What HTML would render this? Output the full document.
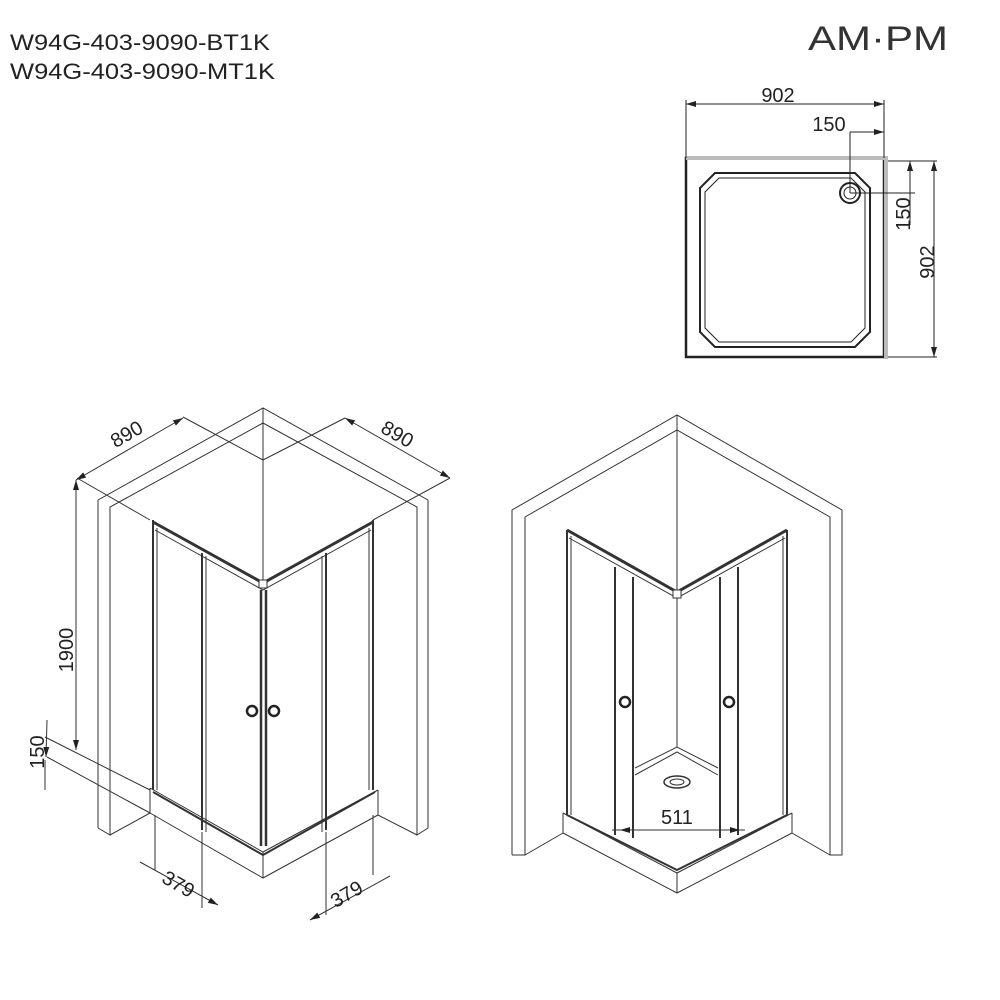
<!DOCTYPE html>
<html><head><meta charset="utf-8"><style>
html,body{margin:0;padding:0;background:#fff}
svg{display:block}
text{font-family:"Liberation Sans",sans-serif;fill:#222}
</style></head><body>
<svg width="1000" height="1000" viewBox="0 0 1000 1000" xmlns="http://www.w3.org/2000/svg">
<defs>
<marker id="a" viewBox="0 0 10 6" refX="10" refY="3" markerWidth="10" markerHeight="6" markerUnits="userSpaceOnUse" orient="auto-start-reverse"><path d="M0 0 L10 3 L0 6 Z" fill="#222"/></marker>
</defs>
<text x="10" y="50" font-size="22" textLength="260" lengthAdjust="spacingAndGlyphs">W94G-403-9090-BT1K</text>
<text x="10" y="79" font-size="22" textLength="265" lengthAdjust="spacingAndGlyphs">W94G-403-9090-MT1K</text>
<text x="808" y="50" font-size="34" font-family="DejaVu Sans" textLength="140" lengthAdjust="spacingAndGlyphs" style="fill:#333">AM·PM</text>

<!-- Top plan -->
<g stroke="#222" fill="none" stroke-width="1">
<rect x="686" y="158" width="198" height="199" stroke-width="2.5"/>
<line x1="686" y1="158" x2="886" y2="158" stroke="#bbb" stroke-width="4"/>
<line x1="886" y1="156" x2="886" y2="359" stroke="#bbb" stroke-width="4"/>
<path d="M715 173 H855 L870 188 V332 L855 347 H715 L700 332 V188 Z" stroke-width="2"/>
<path d="M719 178 H851 L865 192 V328 L851 342 H719 L705 328 V192 Z"/>
<circle cx="850" cy="193" r="10" stroke-width="2"/><circle cx="850" cy="193" r="6"/>
<line x1="686" y1="104" x2="884" y2="104" marker-start="url(#a)" marker-end="url(#a)"/><line x1="686" y1="100" x2="686" y2="158"/><line x1="884" y1="100" x2="884" y2="158"/>
<line x1="850" y1="132" x2="884" y2="132" marker-end="url(#a)"/><line x1="850" y1="132" x2="850" y2="193"/>
<line x1="888" y1="161" x2="937" y2="161"/><line x1="888" y1="357" x2="937" y2="357"/><line x1="850" y1="193" x2="915" y2="193"/>
<line x1="910" y1="225" x2="910" y2="161" marker-end="url(#a)"/><line x1="934" y1="161" x2="934" y2="357" marker-start="url(#a)" marker-end="url(#a)"/>
</g>
<text x="778" y="102" font-size="20" text-anchor="middle">902</text>
<text x="829" y="131" font-size="20" text-anchor="middle">150</text>
<text transform="translate(910,214) rotate(-90)" font-size="20" text-anchor="middle">150</text>
<text transform="translate(934,262) rotate(-90)" font-size="20" text-anchor="middle">902</text>

<!-- Left drawing -->
<g stroke="#333" fill="none" stroke-width="1">
<polyline points="98,828 98,500 263,408 428,500 428,828 417,835 417,507 263,423 110,507 110,835 98,828"/>
<line x1="110" y1="835" x2="150" y2="813"/><line x1="417" y1="835" x2="378" y2="815"/>
<line x1="263" y1="408" x2="263" y2="423"/>
<line x1="263" y1="423" x2="263" y2="583"/>
<polyline points="150,788 263,852 378,790"/>
<polyline points="150,813 263,878 378,815"/>
<line x1="150" y1="788" x2="150" y2="813"/><line x1="378" y1="790" x2="378" y2="815"/><line x1="263" y1="852" x2="263" y2="878"/>
<line x1="153" y1="792" x2="263" y2="855" stroke-width="2"/><line x1="263" y1="855" x2="375" y2="792" stroke-width="2"/>
<polyline points="153,522 263,583 373,522" stroke-width="3"/>
<polyline points="155,530 263,590 371,530"/>
<line x1="153" y1="520" x2="153" y2="790" stroke-width="2"/><line x1="157" y1="528" x2="157" y2="790"/>
<line x1="373" y1="520" x2="373" y2="790" stroke-width="2"/><line x1="369" y1="528" x2="369" y2="790"/>
<line x1="202" y1="553" x2="202" y2="830" stroke-width="2"/><line x1="206" y1="556" x2="206" y2="832"/>
<line x1="326" y1="553" x2="326" y2="830" stroke-width="2"/><line x1="322" y1="556" x2="322" y2="832"/>
<line x1="261" y1="590" x2="261" y2="846" stroke-width="2.5"/><line x1="266" y1="590" x2="266" y2="846" stroke-width="2.5"/>
<rect x="259" y="580" width="8" height="8" fill="#fff"/>
<line x1="76" y1="480" x2="183" y2="418" marker-start="url(#a)" marker-end="url(#a)"/><line x1="77" y1="478" x2="150" y2="520"/><line x1="183" y1="417" x2="263" y2="460"/>
<line x1="345" y1="418" x2="450" y2="478" marker-start="url(#a)" marker-end="url(#a)"/><line x1="345" y1="418" x2="263" y2="460"/><line x1="450" y1="478" x2="373" y2="520"/>
<line x1="76" y1="480" x2="76" y2="750" marker-start="url(#a)" marker-end="url(#a)"/>
<line x1="45" y1="737" x2="150" y2="790"/><line x1="47" y1="757" x2="150" y2="813"/><line x1="47" y1="720" x2="46" y2="757" marker-end="url(#a)"/><line x1="45" y1="790" x2="45" y2="760"/>
<line x1="155" y1="815" x2="155" y2="870"/><line x1="202" y1="832" x2="202" y2="908"/>
<line x1="140" y1="862" x2="218" y2="905" marker-end="url(#a)"/>
<line x1="326" y1="832" x2="326" y2="915"/><line x1="373" y1="815" x2="373" y2="875"/>
<line x1="310" y1="920" x2="390" y2="876" marker-start="url(#a)"/>
</g>
<text transform="translate(130,440) rotate(-30)" font-size="20" text-anchor="middle">890</text>
<text transform="translate(394,440) rotate(30)" font-size="20" text-anchor="middle">890</text>
<text transform="translate(73,650) rotate(-90)" font-size="20" text-anchor="middle">1900</text>
<text transform="translate(44,752) rotate(-90)" font-size="20" text-anchor="middle">150</text>
<text transform="translate(175,890) rotate(30)" font-size="20" text-anchor="middle">379</text>
<text transform="translate(350,900) rotate(-30)" font-size="20" text-anchor="middle">379</text>
<circle cx="252" cy="711" r="5" fill="#fff" stroke="#222" stroke-width="2.5"/>
<circle cx="274" cy="711" r="5" fill="#fff" stroke="#222" stroke-width="2.5"/>

<!-- Right drawing -->
<g stroke="#333" fill="none" stroke-width="1">
<polyline points="512,855 512,510 677,415 842,510 842,855 830,855 830,517 677,430 525,517 525,855 512,855"/>
<line x1="525" y1="855" x2="563" y2="833"/><line x1="830" y1="855" x2="792" y2="833"/>
<line x1="677" y1="415" x2="677" y2="430"/>
<line x1="677" y1="430" x2="677" y2="747"/>
<polyline points="635,768 677,747 718,768"/>
<polyline points="635,775 677,752 718,775"/>
<ellipse cx="677" cy="782" rx="13" ry="6" stroke-width="1.5"/><ellipse cx="677" cy="782" rx="7" ry="3"/>
<polyline points="563,813 677,873 792,813"/>
<polyline points="563,833 677,893 792,833"/>
<line x1="563" y1="813" x2="563" y2="833"/><line x1="792" y1="813" x2="792" y2="833"/><line x1="677" y1="873" x2="677" y2="893"/>
<polyline points="567,815 677,870 787,815" stroke-width="2"/>
<polyline points="567,530 677,592 787,530" stroke-width="3"/>
<polyline points="569,538 677,598 785,538"/>
<line x1="567" y1="530" x2="567" y2="815" stroke-width="2"/><line x1="571" y1="536" x2="571" y2="815"/>
<line x1="787" y1="530" x2="787" y2="815" stroke-width="2"/><line x1="783" y1="536" x2="783" y2="815"/>
<line x1="615" y1="567" x2="615" y2="835" stroke-width="2"/><line x1="633" y1="577" x2="633" y2="838" stroke-width="2"/>
<line x1="720" y1="577" x2="720" y2="838" stroke-width="2"/><line x1="738" y1="567" x2="738" y2="835" stroke-width="2"/>
<rect x="673" y="590" width="8" height="8" fill="#fff"/>
<line x1="612" y1="830" x2="745" y2="830"/>
<line x1="620" y1="830" x2="740" y2="830" marker-start="url(#a)" marker-end="url(#a)"/>
</g>
<circle cx="625" cy="702" r="5" fill="#fff" stroke="#222" stroke-width="2.5"/>
<circle cx="729" cy="702" r="5" fill="#fff" stroke="#222" stroke-width="2.5"/>
<text x="677" y="824" font-size="20" text-anchor="middle">511</text>
</svg>
</body></html>
